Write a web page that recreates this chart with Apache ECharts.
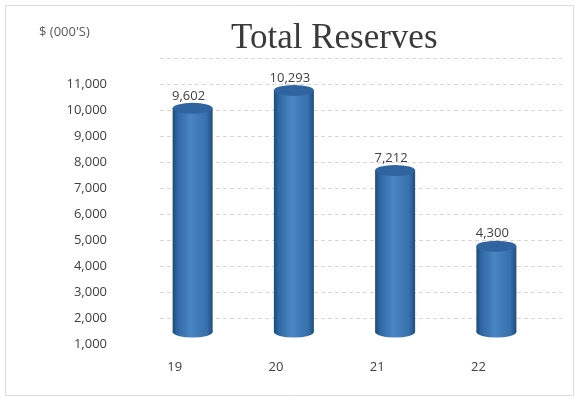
<!DOCTYPE html>
<html>
<head>
<meta charset="utf-8">
<script src="https://cdn.jsdelivr.net/npm/echarts@6/dist/echarts.min.js"></script>
<style>html,body{margin:0;padding:0;background:#fff}#c{width:579px;height:408px}</style>
</head>
<body>
<div id="c"></div>
<script>
var categories = ['19', '20', '21', '22'];
var reserves = [9602, 10293, 7212, 4300];
var yTickMin = 1000, yTickMax = 12000, yTickStep = 1000;
var titleText = 'Total Reserves';
var unitText = "$ (000'S)";

var chart = echarts.init(document.getElementById('c'));
var splitColors = [];
for (var v = yTickMin; v <= yTickMax; v += yTickStep) splitColors.push(v === yTickMin ? 'rgba(0,0,0,0)' : '#d6d6d6');

var bodyGrad = new echarts.graphic.LinearGradient(0, 0, 1, 0, [
  {offset: 0, color: '#1d4a78'},
  {offset: 0.12, color: '#2f67a3'},
  {offset: 0.45, color: '#4a86c4'},
  {offset: 0.85, color: '#3670ad'},
  {offset: 1, color: '#1f4c7c'}
]);
var font = '"Open Sans", "Liberation Sans", sans-serif';
var baseData = categories.map(function (c) { return [c, yTickMin]; });

chart.setOption({
  animation: false,
  title: [
    {text: titleText, left: 226, top: 16, textStyle: {fontFamily: '"Liberation Serif", serif', fontSize: 35, fontWeight: 'normal', color: '#3a3a3a'}},
    {text: unitText, left: 34, top: 21, textStyle: {fontFamily: font, fontSize: 13, fontWeight: 'normal', color: '#595959'}}
  ],
  graphic: [{type: 'rect', shape: {x: 5.5, y: 5.5, width: 568, height: 390}, style: {fill: 'none', stroke: '#dcdcdc', lineWidth: 1}, silent: true}],
  grid: [
    {left: 160, right: 17, top: 58, bottom: 64},
    {left: 142, right: 32, top: 46, bottom: 76}
  ],
  xAxis: [
    {type: 'category', gridIndex: 0, data: categories, show: false},
    {type: 'category', gridIndex: 1, data: categories,
     axisLine: {show: false}, axisTick: {show: false},
     axisLabel: {margin: 29, fontFamily: font, fontSize: 13, color: '#404040', padding: [0, 36, 0, 0]}}
  ],
  yAxis: [
    {type: 'value', gridIndex: 0, min: yTickMin, max: yTickMax, interval: yTickStep,
     axisLine: {show: false}, axisTick: {show: false},
     axisLabel: {showMaxLabel: false, margin: 53, fontFamily: font, fontSize: 13, color: '#404040', padding: [6, 0, 0, 0],
       formatter: function (v) { return v.toLocaleString('en-US'); }},
     splitLine: {lineStyle: {color: splitColors, type: [4, 3], width: 1}}},
    {type: 'value', gridIndex: 1, min: yTickMin, max: yTickMax, show: false, splitLine: {show: false}}
  ],
  series: [
    {type: 'bar', xAxisIndex: 1, yAxisIndex: 1, data: reserves, barWidth: 40,
     itemStyle: {color: bodyGrad},
     label: {show: true, position: 'top', distance: 6, offset: [-4, 0], fontFamily: font, fontSize: 13, color: '#404040',
       formatter: function (p) { return p.value.toLocaleString('en-US'); }}, z: 2},
    {type: 'scatter', xAxisIndex: 1, yAxisIndex: 1, data: baseData, symbol: 'circle', symbolSize: [40, 11],
     itemStyle: {color: bodyGrad, opacity: 1}, z: 1, silent: true},
    {type: 'pictorialBar', xAxisIndex: 1, yAxisIndex: 1, data: reserves, symbol: 'circle', symbolSize: [40, 11],
     symbolPosition: 'end', symbolOffset: [0, '-50%'], itemStyle: {color: '#2f64a0'}, z: 3}
  ]
});
</script>
</body>
</html>
